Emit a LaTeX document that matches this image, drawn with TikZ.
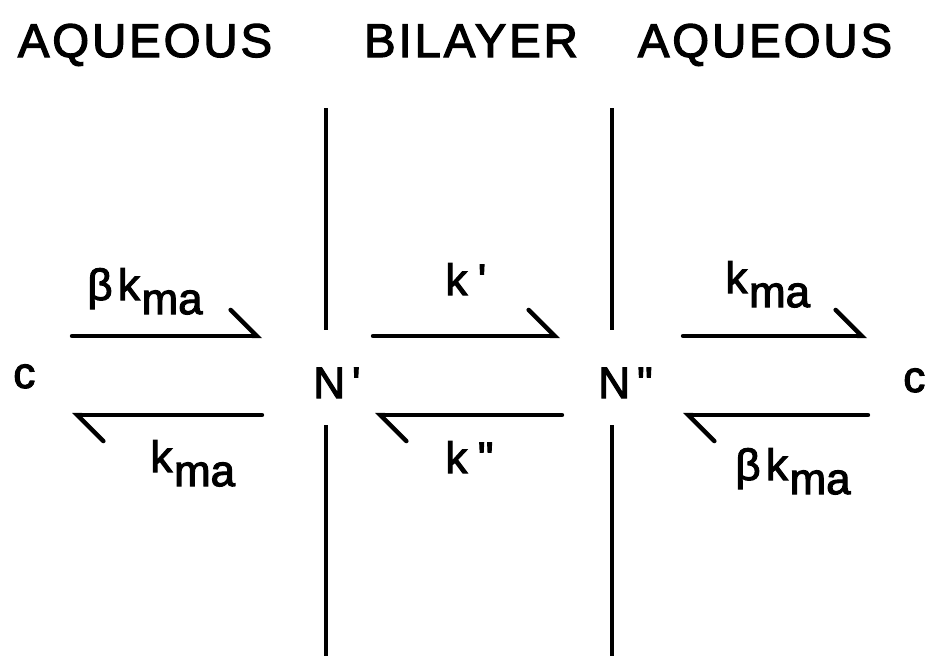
\documentclass[tikz,border=0pt]{standalone}
\usepackage{fontspec}
\setmainfont{Liberation Sans}[Ligatures=TeXOff]
\newfontfamily\lettering{Liberation Sans}[Ligatures=TeXOff,FakeBold=2.5]
\usetikzlibrary{arrows.meta}
\tikzset{
  wall/.style={line width=2.7pt},
  flux/.style={line width=2.5pt,line cap=round,
    -{Straight Barb[left,angle=90:21pt,line cap=round]}},
  title/.style={font=\fontsize{27}{30}\lettering\addfontfeature{LetterSpace=6}\selectfont,anchor=base,inner sep=0pt},
  lbl/.style={font=\fontsize{25}{28}\lettering\selectfont,anchor=base west,inner sep=0pt},
}
\newcommand{\kma}{k\kern1pt\raisebox{-8pt}{ma}}
\newcommand{\bkma}{β\kern3pt\kma}
\begin{document}
\begin{tikzpicture}[x=0.02cm,y=-0.02cm]
\useasboundingbox (0,0) rectangle (931,656);
% headings
\node[title] (aqL) at (145,57) {AQUEOUS};
\node[title] (bil) at (471,57) {BILAYER};
\node[title] (aqR) at (765,57) {AQUEOUS};
% membrane faces
\coordinate (w1a) at (326,108); \coordinate (w1b) at (326,330);
\coordinate (w1c) at (326,425); \coordinate (w1d) at (326,656);
\coordinate (w2a) at (612,108); \coordinate (w2b) at (612,330);
\coordinate (w2c) at (612,425); \coordinate (w2d) at (612,656);
\draw[wall] (w1a) -- (w1b) (w1c) -- (w1d);
\draw[wall] (w2a) -- (w2b) (w2c) -- (w2d);
% species
\node[lbl] (cL) at (13,388) {c};
\node[lbl] (N1) at (313,398) {N\kern4pt'};
\node[lbl] (N2) at (598,398) {N\kern4pt"};
\node[lbl] (cR) at (903,392) {c};
% rate arrows
\coordinate (a1) at (72,336);  \coordinate (b1) at (262,336);
\coordinate (a2) at (262,415); \coordinate (b2) at (72,415);
\coordinate (a3) at (373,336); \coordinate (b3) at (560,336);
\coordinate (a4) at (562,415); \coordinate (b4) at (375,415);
\coordinate (a5) at (683,336); \coordinate (b5) at (867,336);
\coordinate (a6) at (868,415); \coordinate (b6) at (683,415);
\foreach \i in {1,...,6}
  \draw[flux] (a\i) -- (b\i);
% rate constants
\node[lbl] (r1) at (87,300) {\bkma};
\node[lbl] (r2) at (150,472) {\kma};
\node[lbl] (r3) at (445,295) {k\kern6pt'};
\node[lbl] (r4) at (445,473) {k\kern6pt"};
\node[lbl] (r5) at (725,293) {\kma};
\node[lbl] (r6) at (735,480) {\bkma};
\end{tikzpicture}
\end{document}
